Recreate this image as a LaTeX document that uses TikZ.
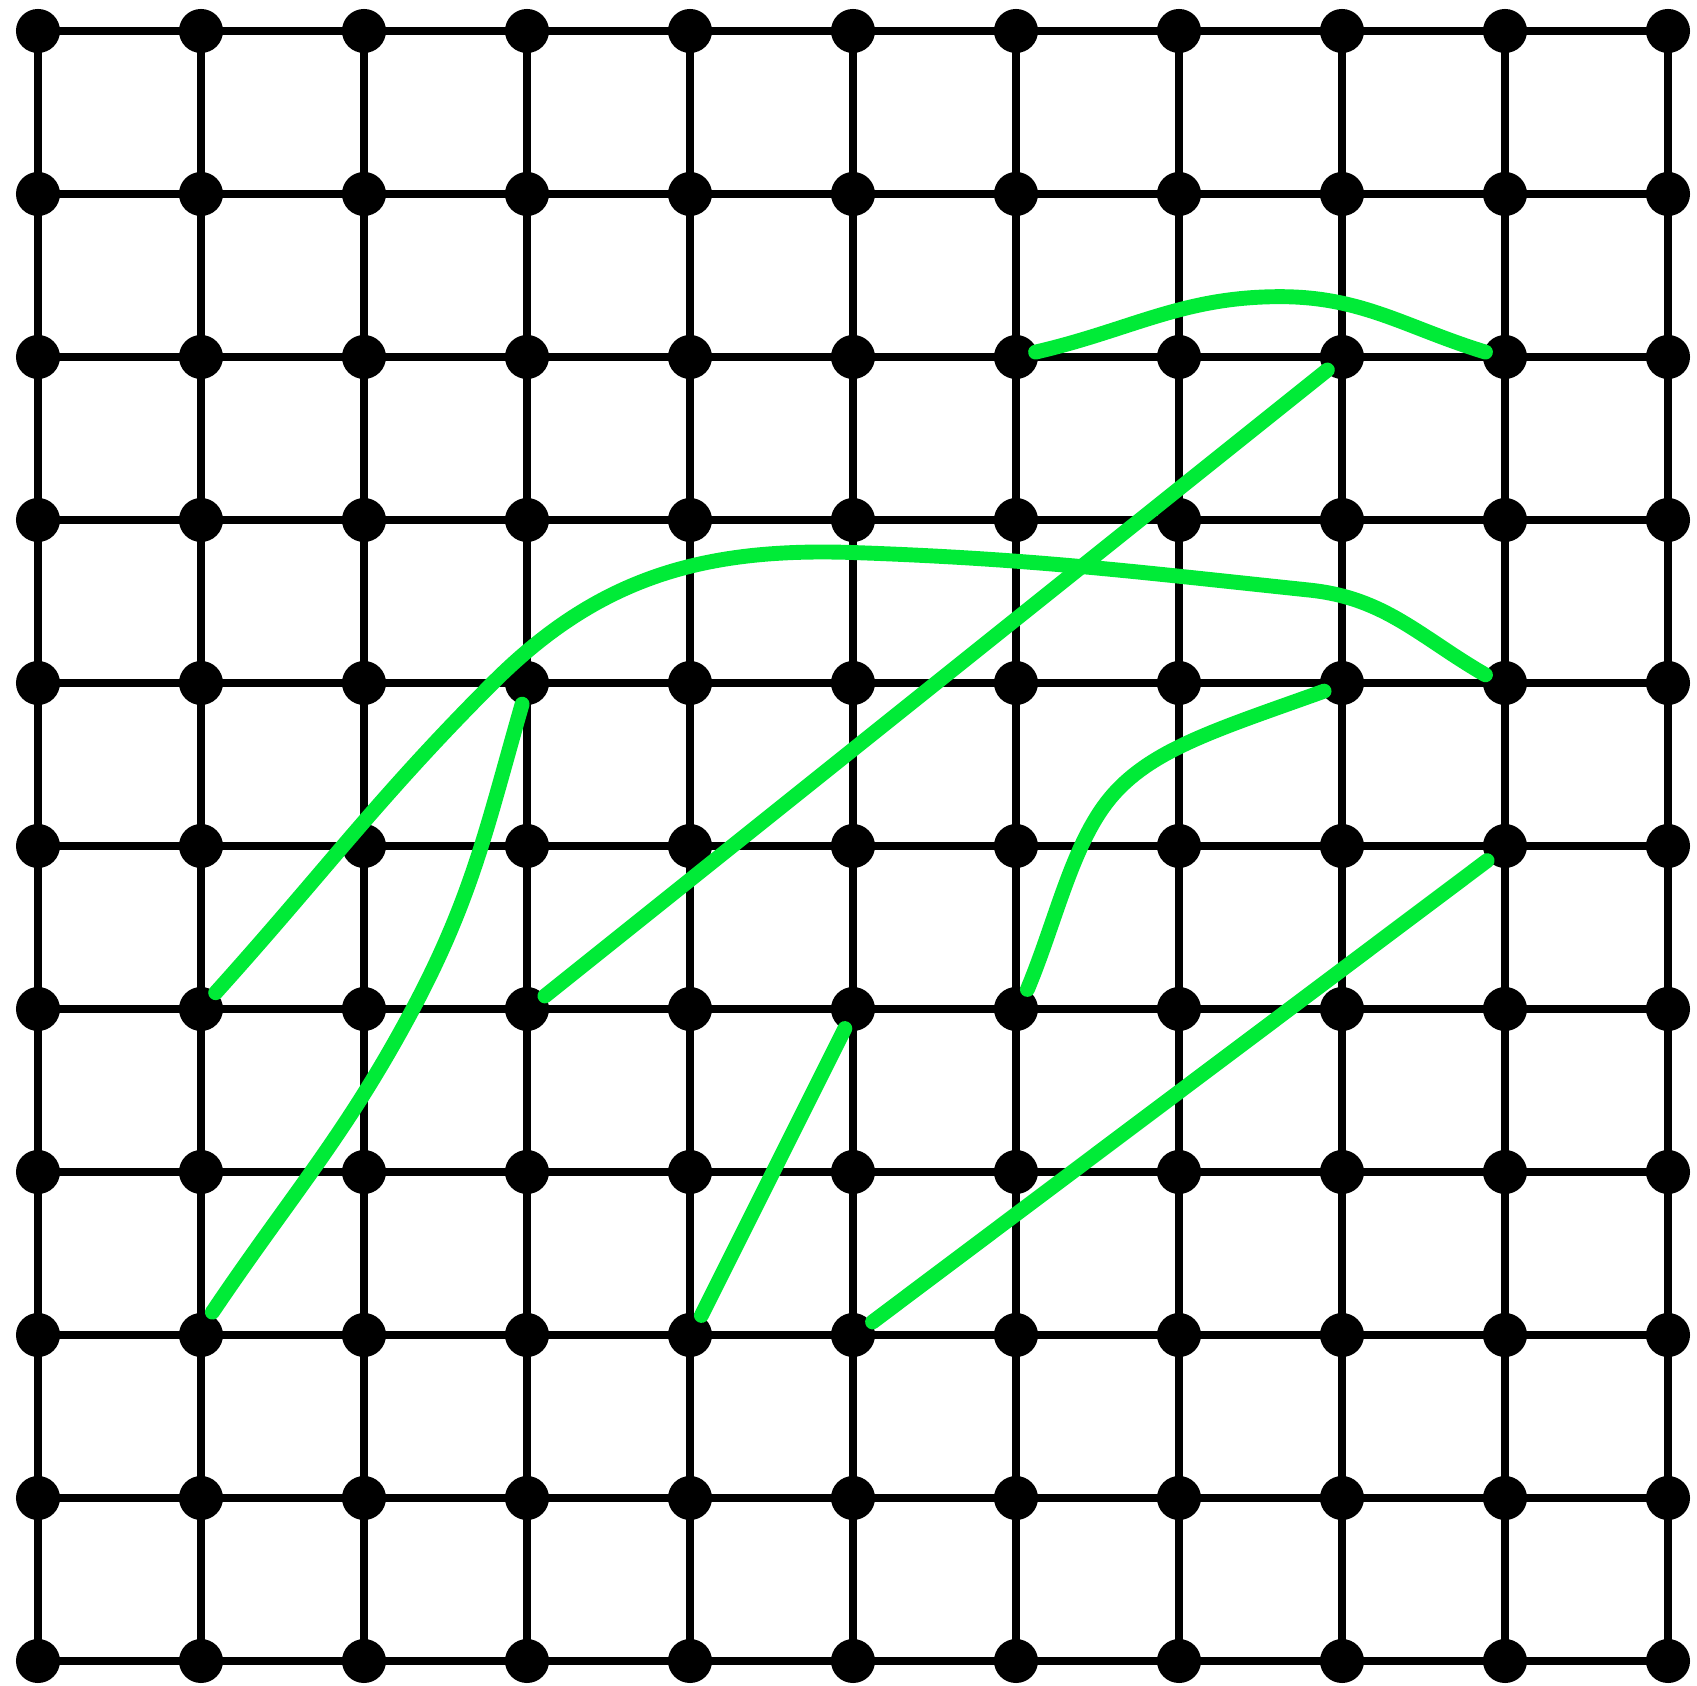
\documentclass[tikz,border=0pt]{standalone}
\usepackage{xcolor}
\usepackage{tikz}
\usetikzlibrary{
  calc,
  backgrounds
}
\definecolor{cutgreen}{RGB}{0,235,55}

\begin{document}
\begin{tikzpicture}[
    vertex/.style={
      circle,
      fill=black,
      inner sep=0pt,
      minimum size=2.7mm
    },
    grid line/.style={
      line width=1.55pt
    },
    cut/.style={
      cutgreen,
      line width=2.6pt,
      line cap=round,
      line join=round
    }
  ]

  \useasboundingbox (-0.233,-0.153) rectangle (10.178,10.19);

  % ========== Vertices ==========
  \foreach \i in {0,...,10}{
    \foreach \j in {0,...,10}{
      \node[vertex] (v-\i-\j) at (\i,\j) {};
    }
  }

  % ========== Grid edges ==========
  \begin{scope}[on background layer]
  \foreach \i in {0,...,10}{
    \foreach \j [count=\k from 1] in {0,...,9}{
      \draw[grid line] (v-\i-\j.center)--(v-\i-\k.center);
      \draw[grid line] (v-\j-\i.center)--(v-\k-\i.center);
    }
  }
  \end{scope}

  % ========== Green cuts ==========
  \coordinate (a1) at (6.12,8.03);
  \coordinate (a2) at (8.88,8.03);
  \draw[cut] (a1) to[out=13,in=180] (7.62,8.37) to[out=0,in=163] (a2);

  \coordinate (b1) at (7.91,7.92);
  \coordinate (b2) at (3.11,4.08);
  \draw[cut] (b1)--(b2);

  \coordinate (c1) at (1.09,4.10);
  \coordinate (c2) at (8.88,6.05);
  \draw[cut] (c1) to[out=48,in=225] (2.79,6.0)
    to[out=45,in=178] (5.01,6.80)
    to[out=-2,in=174] (7.80,6.57)
    to[out=-6,in=150] (c2);

  \coordinate (d1) at (2.97,5.87);
  \coordinate (d2) at (1.07,2.14);
  \draw[cut] (d1) to[out=-106,in=62] (2.30,4.0)
    to[out=-118,in=56] (d2);

  \coordinate (e1) at (4.95,3.88);
  \coordinate (e2) at (4.07,2.12);
  \draw[cut] (e1)--(e2);

  \coordinate (f1) at (8.89,4.91);
  \coordinate (f2) at (5.12,2.08);
  \draw[cut] (f1)--(f2);

  \coordinate (g1) at (7.89,5.95);
  \coordinate (g2) at (6.07,4.12);
  \draw[cut] (g1) .. controls (7.25,5.72) and (6.85,5.6) .. (6.6,5.32)
    .. controls (6.35,5.04) and (6.25,4.55) .. (g2);
\end{tikzpicture}
\end{document}
